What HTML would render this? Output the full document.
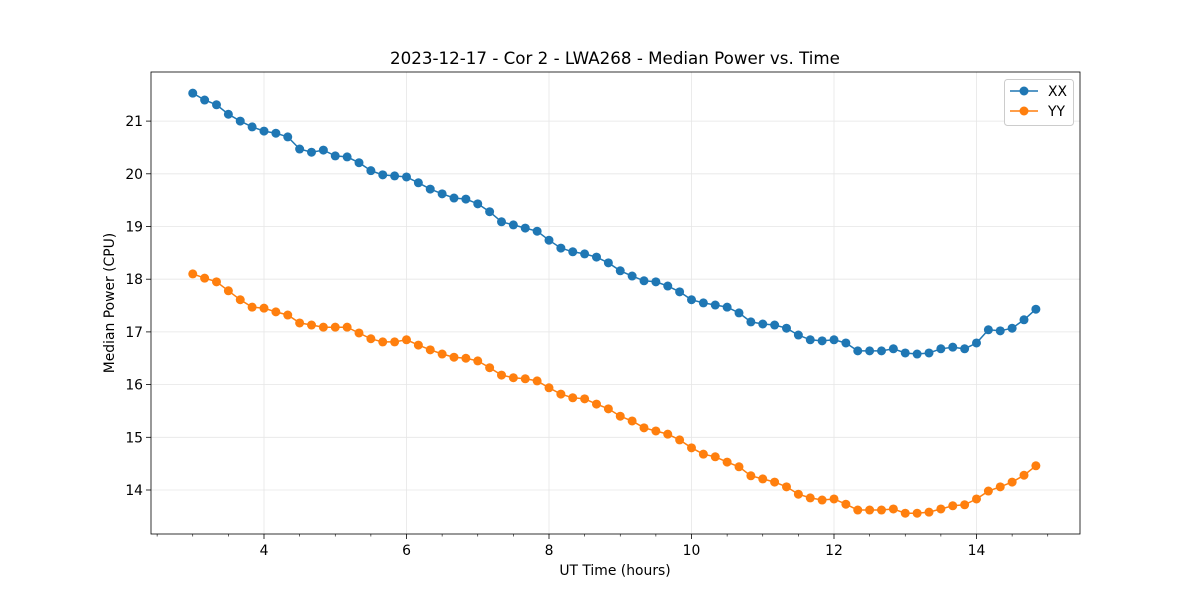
<!DOCTYPE html>
<html><head><meta charset="utf-8"><style>
body{margin:0;background:#fff;}
svg{display:block;font-family:"DejaVu Sans","Liberation Sans",sans-serif;}
</style></head><body>
<svg id="chart" width="1200" height="600" viewBox="0 0 1200 600">
<rect width="1200" height="600" fill="#fff"/>
<text x="615" y="64" text-anchor="middle" font-size="16.7">2023-12-17 - Cor 2 - LWA268 - Median Power vs. Time</text>
<text x="615" y="575" text-anchor="middle" font-size="13.9">UT Time (hours)</text>
<text transform="translate(114,303) rotate(-90)" text-anchor="middle" font-size="13.9">Median Power (CPU)</text>
<g id="grid"></g><g id="axes"></g><g id="series"></g>
<g>
<rect x="1004.5" y="79.5" width="69" height="46" rx="3" fill="#fff" stroke="#ccc"/>
<g><line x1="1010" y1="91" x2="1038" y2="91" stroke="#1f77b4" stroke-width="1.5"/><circle cx="1024" cy="91" r="4.5" fill="#1f77b4"/><text x="1048" y="96" font-size="13.9">XX</text></g>
<g><line x1="1010" y1="111" x2="1038" y2="111" stroke="#ff7f0e" stroke-width="1.5"/><circle cx="1024" cy="111" r="4.5" fill="#ff7f0e"/><text x="1048" y="116" font-size="13.9">YY</text></g>
</g>
</svg>
<script>
const xxValues=[21.53,21.40,21.31,21.13,21.00,20.89,20.81,20.77,20.70,20.47,20.41,20.45,20.34,20.32,20.21,20.06,19.98,19.96,19.94,19.83,19.71,19.62,19.54,19.52,19.43,19.28,19.09,19.03,18.97,18.91,18.74,18.59,18.52,18.48,18.42,18.31,18.16,18.06,17.97,17.95,17.87,17.76,17.61,17.55,17.51,17.47,17.36,17.19,17.15,17.13,17.07,16.94,16.85,16.83,16.85,16.79,16.64,16.64,16.64,16.68,16.60,16.58,16.60,16.68,16.71,16.68,16.79,17.04,17.02,17.07,17.23,17.43];
const yyValues=[18.10,18.02,17.95,17.78,17.61,17.47,17.45,17.38,17.32,17.17,17.13,17.09,17.09,17.09,16.98,16.87,16.81,16.81,16.85,16.75,16.66,16.58,16.52,16.50,16.45,16.32,16.18,16.13,16.11,16.07,15.94,15.82,15.75,15.73,15.63,15.54,15.40,15.31,15.18,15.12,15.06,14.95,14.80,14.68,14.63,14.53,14.44,14.27,14.21,14.15,14.06,13.92,13.85,13.81,13.83,13.73,13.62,13.62,13.62,13.64,13.56,13.56,13.58,13.64,13.70,13.72,13.83,13.98,14.06,14.15,14.28,14.46];
const startHour=3, stepHour=1/6;
const xTicks=[4,6,8,10,12,14];
const yTicks=[14,15,16,17,18,19,20,21];
const L=151,R=1080,T=72,B=534;
const xs=h=>264+(h-4)*71.25;
const ys=v=>490-(v-14)*52.7;
const NS="http://www.w3.org/2000/svg";
function mk(tag,attrs,parent){const e=document.createElementNS(NS,tag);for(const k in attrs)e.setAttribute(k,attrs[k]);parent.appendChild(e);return e;}
const grid=document.getElementById('grid'),axes=document.getElementById('axes'),ser=document.getElementById('series');
xTicks.forEach(t=>{const x=xs(t);
 const g=mk('line',{x1:x,x2:x,y1:T,y2:B,stroke:'#e6e6e6','stroke-width':0.8},grid);
 
 
 const tk=mk('line',{x1:x,x2:x,y1:B,y2:B+5,stroke:'#000','stroke-width':0.8},axes);
 
 
 const tx=mk('text',{x:x,y:B+21,'text-anchor':'middle','font-size':13.9},axes);tx.textContent=t;
 
 
});
for(let m=2.5;m<=15;m+=0.5){if(Number.isInteger(m/2))continue;const x=xs(m);
 const tk=mk('line',{x1:x,x2:x,y1:B,y2:B+2.5,stroke:'#000','stroke-width':0.6},axes);
 
 }
yTicks.forEach(t=>{const y=ys(t);
 const g=mk('line',{x1:L,x2:R,y1:y,y2:y,stroke:'#e6e6e6','stroke-width':0.8},grid);
 
 
 const tk=mk('line',{x1:L-5,x2:L,y1:y,y2:y,stroke:'#000','stroke-width':0.8},axes);
 
 
 const tx=mk('text',{x:L-8,y:y+5,'text-anchor':'end','font-size':13.9},axes);tx.textContent=t;
 
 
});
const frame=mk('rect',{x:L,y:T,width:R-L,height:B-T,fill:'none',stroke:'#000','stroke-width':0.8},axes);


function draw(vals,color,name){
 const pts=vals.map((v,i)=>xs(startHour+i*stepHour).toFixed(1)+','+ys(v).toFixed(1)).join(' ');
 const pl=mk('polyline',{points:pts,fill:'none',stroke:color,'stroke-width':1.5},ser);
 
 
 vals.forEach((v,i)=>{const c=mk('circle',{cx:xs(startHour+i*stepHour),cy:ys(v),r:4.5,fill:color},ser);
  
  });
}
draw(xxValues,'#1f77b4','xx');
draw(yyValues,'#ff7f0e','yy');
</script>
</body></html>
